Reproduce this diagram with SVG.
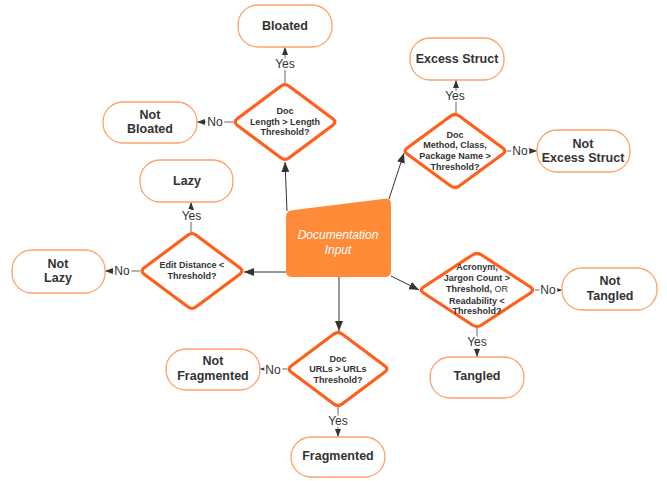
<svg xmlns="http://www.w3.org/2000/svg" width="667" height="481" viewBox="0 0 667 481">
<defs>
<marker id="big" viewBox="0 0 10 8" refX="10" refY="4" markerWidth="10" markerHeight="8" markerUnits="userSpaceOnUse" orient="auto"><path d="M0,0 L10,4 L0,8 Z" fill="#333"/></marker>
<marker id="sm" viewBox="0 0 8 6" refX="8" refY="3" markerWidth="8" markerHeight="6" markerUnits="userSpaceOnUse" orient="auto"><path d="M0,0 L8,3 L0,6 Z" fill="#333"/></marker>
<style>
.pill{fill:#fff;stroke:#FFA066;stroke-width:1.3}
.dia{fill:#fff;stroke:#FF5F1A;stroke-width:3.2;stroke-linejoin:round}
.nt{font-family:"Liberation Sans",Arial,sans-serif;font-weight:bold;font-size:12.5px;fill:#333;text-anchor:middle}
.dt{font-family:"Liberation Sans",Arial,sans-serif;font-weight:bold;font-size:9px;fill:#333;text-anchor:middle}
.lbl{font-family:"Liberation Sans",Arial,sans-serif;font-size:12px;fill:#333;text-anchor:middle;stroke:#fff;stroke-width:4;paint-order:stroke;stroke-linejoin:round}
.c{stroke:#333;stroke-width:1;fill:none}
.cs{stroke:#555;stroke-width:0.9;fill:none}
</style>
</defs>
<g id="connectors">
<line class="c" x1="287" y1="211" x2="285" y2="162" marker-end="url(#big)"/>
<line class="c" x1="389" y1="199" x2="404" y2="153" marker-end="url(#big)"/>
<line class="c" x1="286" y1="272" x2="244" y2="272" marker-end="url(#big)"/>
<line class="c" x1="391" y1="276" x2="419" y2="290" marker-end="url(#big)"/>
<line class="c" x1="339" y1="277" x2="339" y2="331" marker-end="url(#big)"/>
<line class="cs" x1="285" y1="84" x2="285" y2="47" marker-end="url(#sm)"/>
<line class="cs" x1="233" y1="122" x2="197" y2="122" marker-end="url(#sm)"/>
<line class="cs" x1="456" y1="113" x2="456" y2="80" marker-end="url(#sm)"/>
<line class="cs" x1="507" y1="151" x2="537" y2="151" marker-end="url(#sm)"/>
<line class="cs" x1="191" y1="232" x2="191" y2="202" marker-end="url(#sm)"/>
<line class="cs" x1="140" y1="271" x2="105" y2="271" marker-end="url(#sm)"/>
<line class="cs" x1="535" y1="290" x2="562" y2="290" marker-end="url(#sm)"/>
<line class="cs" x1="477" y1="328" x2="477" y2="357" marker-end="url(#sm)"/>
<line class="cs" x1="287" y1="369" x2="260" y2="369" marker-end="url(#sm)"/>
<line class="cs" x1="338" y1="407" x2="338" y2="437" marker-end="url(#sm)"/>
<text class="lbl" x="285" y="68.3">Yes</text>
<text class="lbl" x="215" y="126">No</text>
<text class="lbl" x="455" y="99.5">Yes</text>
<text class="lbl" x="520" y="154.5">No</text>
<text class="lbl" x="191.5" y="220">Yes</text>
<text class="lbl" x="122" y="274.5">No</text>
<text class="lbl" x="548" y="293.5">No</text>
<text class="lbl" x="477" y="345.5">Yes</text>
<text class="lbl" x="273" y="373.5">No</text>
<text class="lbl" x="338" y="425">Yes</text>
</g>
<g id="doc-input">
<path d="M286,217 Q286,211 292,210.3 L385,198.7 Q391,198 391,204 L391,271 Q391,277 385,277 L292,277 Q286,277 286,271 Z" fill="#FF8A38"/>
<text x="338" y="239" font-family="Liberation Sans,Arial,sans-serif" font-style="italic" font-size="12" fill="#fff" text-anchor="middle">Documentation</text>
<text x="338" y="254" font-family="Liberation Sans,Arial,sans-serif" font-style="italic" font-size="12" fill="#fff" text-anchor="middle">Input</text>
</g>
<g id="d-length">
<path class="dia" d="M280.8,86.2 Q285,83 289.2,86.2 L332.8,118.8 Q337,122 332.8,125.2 L289.2,157.8 Q285,161 280.8,157.8 L237.2,125.2 Q233,122 237.2,118.8 Z"/>
<text class="dt" x="285" y="114">Doc</text>
<text class="dt" x="285" y="124.5">Length &gt; Length</text>
<text class="dt" x="285" y="135">Threshold?</text>
</g>
<g id="d-struct">
<path class="dia" d="M450.8,116 Q455,113 459.2,116 L502.8,148 Q507,151 502.8,154 L459.2,186 Q455,189 450.8,186 L407.2,154 Q403,151 407.2,148 Z"/>
<text class="dt" x="455" y="137.5">Doc</text>
<text class="dt" x="455" y="148.3">Method, Class,</text>
<text class="dt" x="455" y="159">Package Name &gt;</text>
<text class="dt" x="455" y="170">Threshold?</text>
</g>
<g id="d-edit">
<path class="dia" d="M187.8,235.2 Q192,232 196.2,235.2 L239.8,267.8 Q244,271 239.8,274.2 L196.2,306.8 Q192,310 187.8,306.8 L144.2,274.2 Q140,271 144.2,267.8 Z"/>
<text class="dt" x="192" y="268.2">Edit Distance &lt;</text>
<text class="dt" x="192" y="279.2">Threshold?</text>
</g>
<g id="d-tangled">
<path class="dia" d="M472.4,255 Q477,252 481.6,255 L530.4,287 Q535,290 530.4,293 L481.6,325 Q477,328 472.4,325 L423.6,293 Q419,290 423.6,287 Z"/>
<text class="dt" x="477" y="270">Acronym,</text>
<text class="dt" x="477" y="281">Jargon Count &gt;</text>
<text class="dt" x="477" y="292.3">Threshold, <tspan font-weight="normal">OR</tspan></text>
<text class="dt" x="477" y="303.5">Readability &lt;</text>
<text class="dt" x="477" y="314.3">Threshold?</text>
</g>
<g id="d-urls">
<path class="dia" d="M333.9,334 Q338,331 342.1,334 L384.9,366 Q389,369 384.9,372 L342.1,404 Q338,407 333.9,404 L291.1,372 Q287,369 291.1,366 Z"/>
<text class="dt" x="338" y="361.5">Doc</text>
<text class="dt" x="338" y="372.3">URLs &gt; URLs</text>
<text class="dt" x="338" y="382.6">Threshold?</text>
</g>
<g id="bloated"><rect class="pill" x="238" y="5" width="94" height="42" rx="20"/><text class="nt" x="285" y="29.5">Bloated</text></g>
<g id="not-bloated"><rect class="pill" x="103" y="102" width="94" height="41" rx="20"/><text class="nt" x="150" y="118.5">Not</text><text class="nt" x="150" y="132.5">Bloated</text></g>
<g id="excess-struct"><rect class="pill" x="410" y="38" width="94" height="42" rx="20"/><text class="nt" x="457" y="62.5">Excess Struct</text></g>
<g id="not-excess-struct"><rect class="pill" x="537" y="130" width="93" height="42" rx="20"/><text class="nt" x="583" y="147.6">Not</text><text class="nt" x="583" y="162">Excess Struct</text></g>
<g id="lazy"><rect class="pill" x="140" y="160" width="93" height="42" rx="20"/><text class="nt" x="187" y="185">Lazy</text></g>
<g id="not-lazy"><rect class="pill" x="12" y="250" width="93" height="43" rx="20"/><text class="nt" x="58" y="267.6">Not</text><text class="nt" x="58" y="282">Lazy</text></g>
<g id="not-tangled"><rect class="pill" x="562" y="268" width="95" height="42" rx="20"/><text class="nt" x="610" y="285.3">Not</text><text class="nt" x="610" y="299.5">Tangled</text></g>
<g id="tangled"><rect class="pill" x="430" y="357" width="94" height="41" rx="20"/><text class="nt" x="477" y="380.3">Tangled</text></g>
<g id="not-fragmented"><rect class="pill" x="166" y="349" width="94" height="41" rx="20"/><text class="nt" x="213" y="365.3">Not</text><text class="nt" x="213" y="380">Fragmented</text></g>
<g id="fragmented"><rect class="pill" x="291" y="437" width="94" height="40" rx="20"/><text class="nt" x="338" y="460">Fragmented</text></g>
</svg>
